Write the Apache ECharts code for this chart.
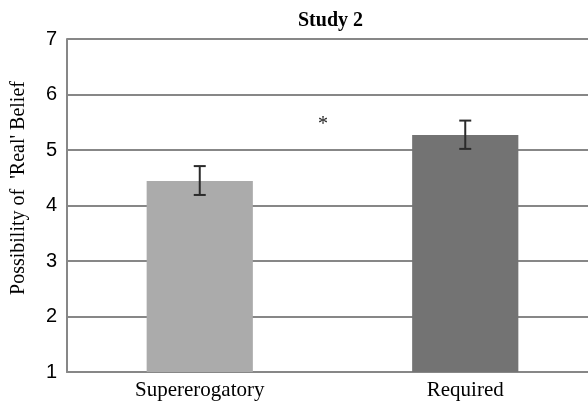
<!DOCTYPE html>
<html>
<head>
<meta charset="utf-8">
<script src="https://cdn.jsdelivr.net/npm/echarts@6/dist/echarts.min.js"></script>
<style>
  html, body { margin: 0; padding: 0; background: #fff; }
  #chart { width: 588px; height: 401px; }
</style>
</head>
<body>
<div id="chart"></div>
<script>
// data
const conditions = ["Supererogatory", "Required"];
const means = [4.44, 5.27];
const errLow = [4.19, 5.02];
const errHigh = [4.71, 5.53];
const barColors = ["#ababab", "#737373"];

const chart = echarts.init(document.getElementById("chart"));
const gridColor = "#878787";

chart.setOption({
    animation: false,
    title: {
        text: "Study 2",
        left: 293,
        top: 6,
        textStyle: {
            fontFamily: "Liberation Serif",
            fontWeight: "bold",
            fontSize: 20,
            color: "#000",
        },
    },
    grid: {
        left: 67,
        top: 39,
        width: 531,
        height: 333,
        outerBoundsMode: "none",
    },
    xAxis: {
        type: "category",
        data: conditions,
        axisLine: { lineStyle: { color: gridColor, width: 2 } },
        axisTick: { show: false },
        axisLabel: {
            fontFamily: "Liberation Serif",
            fontSize: 21,
            color: "#000",
            margin: 8,
        },
    },
    yAxis: {
        type: "value",
        min: 1,
        max: 7,
        interval: 1,
        axisLine: { show: true, lineStyle: { color: gridColor, width: 2 } },
        axisTick: { show: false },
        splitLine: { lineStyle: { color: gridColor, width: 2 } },
        axisLabel: {
            fontFamily: "Liberation Sans",
            fontSize: 20,
            color: "#000",
            margin: 10,
        },
    },
    series: [
        {
            type: "bar",
            barWidth: "40%",
            data: means.map((v, i) => ({ value: v, itemStyle: { color: barColors[i] } })),
        },
        {
            type: "custom",
            data: conditions.map((c, i) => [i, errLow[i], errHigh[i]]),
            renderItem: function (params, api) {
                const lo = api.coord([api.value(0), api.value(1)]);
                const hi = api.coord([api.value(0), api.value(2)]);
                const hw = 6;
                const style = { stroke: "#2b2b2b", lineWidth: 2 };
                return {
                    type: "group",
                    children: [
                        { type: "line", shape: { x1: lo[0], y1: lo[1], x2: hi[0], y2: hi[1] }, style: style },
                        { type: "line", shape: { x1: lo[0] - hw, y1: lo[1], x2: lo[0] + hw, y2: lo[1] }, style: style },
                        { type: "line", shape: { x1: hi[0] - hw, y1: hi[1], x2: hi[0] + hw, y2: hi[1] }, style: style },
                    ],
                };
            },
            z: 5,
        },
    ],
    graphic: [
        {
            type: "text",
            x: 19,
            y: 188,
            rotation: Math.PI / 2,
            style: {
                text: "Possibility of  'Real' Belief",
                fontFamily: "Liberation Serif",
                fontSize: 20,
                fill: "#000",
                align: "center",
                verticalAlign: "middle",
            },
        },
        {
            type: "text",
            left: 318,
            top: 115,
            style: {
                text: "*",
                fontFamily: "Liberation Serif",
                fontSize: 20,
                fill: "#222",
            },
        },
    ],
});
</script>
</body>
</html>
